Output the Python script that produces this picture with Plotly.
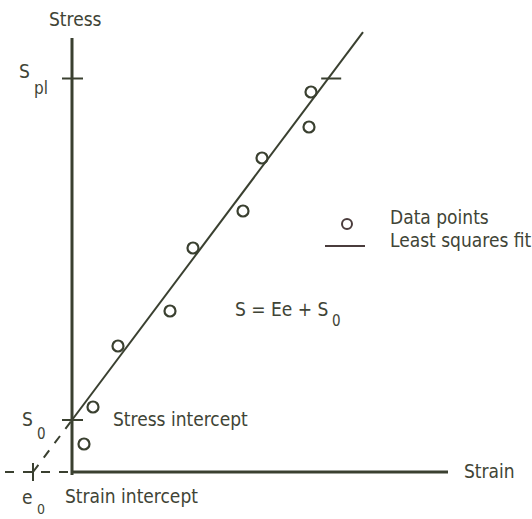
import plotly.graph_objects as go

# Measured data points (strain, stress), arbitrary units
strain = [0.12, 0.21, 0.46, 0.98, 1.21, 1.71, 1.90, 2.37, 2.39]
stress = [0.28, 0.65, 1.26, 1.61, 2.24, 2.61, 3.14, 3.45, 3.80]

# Least squares fit  S = E e + S0
S0 = 0.52
E = 1.333
e0 = -S0 / E
fit_end = 2.91
S_pl = 3.935

axis_x_end = 3.76
axis_y_end = 4.34

INK = "#3a4030"
TEXT = "#3f4436"
FONT = "DejaVu Sans Condensed, Liberation Sans Narrow, Arial Narrow, sans-serif"

fig = go.Figure()

# Dashed extrapolation of fit down to strain intercept
fig.add_trace(go.Scatter(
    x=[e0, 0], y=[0, S0], mode="lines",
    line=dict(color=INK, width=2, dash="dash"), hoverinfo="skip",
))
# Solid fit line
fig.add_trace(go.Scatter(
    x=[0, fit_end], y=[S0, E * fit_end + S0], mode="lines",
    line=dict(color=INK, width=2), hoverinfo="skip",
))
# Data points
fig.add_trace(go.Scatter(
    x=strain, y=stress, mode="markers",
    marker=dict(symbol="circle-open", size=11, color=INK, line=dict(width=2.2)),
    hoverinfo="skip",
))

shapes = [
    # axes
    dict(type="line", x0=0, x1=0, y0=-0.03, y1=axis_y_end, line=dict(color=INK, width=3)),
    dict(type="line", x0=0, x1=axis_x_end, y0=0, y1=0, line=dict(color=INK, width=3)),
    dict(type="line", x0=-0.67, x1=0, y0=0, y1=0, line=dict(color=INK, width=2, dash="dash")),
    # ticks
    dict(type="line", x0=-0.10, x1=0.11, y0=S_pl, y1=S_pl, line=dict(color=INK, width=2)),
    dict(type="line", x0=-0.10, x1=0.11, y0=S0, y1=S0, line=dict(color=INK, width=2)),
    dict(type="line", x0=e0, x1=e0, y0=-0.09, y1=0.09, line=dict(color=INK, width=2)),
    dict(type="line", x0=(S_pl - S0) / E - 0.07, x1=(S_pl - S0) / E + 0.13,
         y0=S_pl, y1=S_pl, line=dict(color=INK, width=2)),
    # legend symbols
    dict(type="circle", xsizemode="pixel", ysizemode="pixel", xanchor=2.75, yanchor=2.48,
         x0=-5, x1=5, y0=-5, y1=5, line=dict(color="#4a3c3c", width=2)),
    dict(type="line", x0=2.53, x1=2.93, y0=2.26, y1=2.26, line=dict(color="#4a3c3c", width=2)),
]


def label(x, y, text, xanchor="left", size=19):
    return dict(x=x, y=y, text=text, showarrow=False, xanchor=xanchor, yanchor="middle",
                font=dict(family=FONT, size=size, color=TEXT))


annotations = [
    label(0.03, 4.53, "Stress", "center"),
    label(-0.405, 4.01, "S", "right"),
    label(-0.405, 3.84, "pl", "left", 17),
    label(-0.37, 0.53, "S", "right"),
    label(-0.37, 0.38, "0", "left", 15),
    label(0.39, 0.53, "Stress intercept"),
    label(3.90, 0.01, "Strain"),
    label(-0.37, -0.25, "e", "right"),
    label(-0.37, -0.37, "0", "left", 14),
    label(-0.09, -0.24, "Strain intercept"),
    label(2.58, 1.63, "S = Ee + S", "right"),
    label(2.58, 1.51, "0", "left", 15),
    label(3.16, 2.55, "Data points"),
    label(3.16, 2.32, "Least squares fit"),
]

fig.update_layout(
    width=532, height=519,
    margin=dict(l=0, r=0, t=0, b=0),
    plot_bgcolor="white", paper_bgcolor="white",
    showlegend=False,
    xaxis=dict(range=[-0.72, 4.60], visible=False),
    yaxis=dict(range=[-0.47, 4.72], visible=False),
    shapes=shapes,
    annotations=annotations,
)

fig.write_html(
    "out.html",
    config={"displayModeBar": False},
    post_script="document.body.style.margin = '0px';",
)
